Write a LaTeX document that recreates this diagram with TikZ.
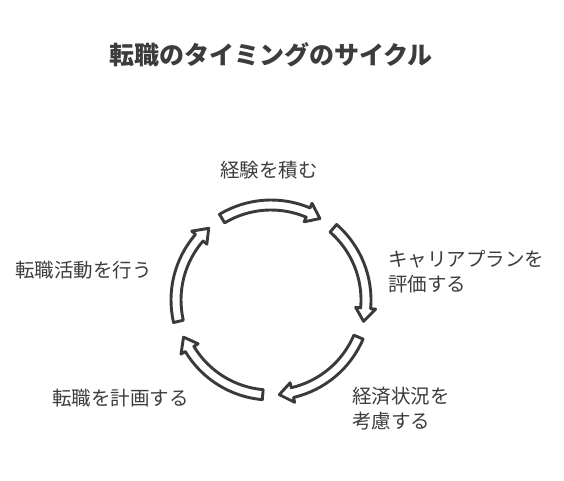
\documentclass[tikz,border=0pt]{standalone}
\usepackage{fontspec}
\newfontfamily\cjk{Noto Sans CJK JP}
\definecolor{ink}{HTML}{3A3A3A}
\definecolor{txt}{HTML}{3C3C3C}
\tikzset{
  cyc/.style={draw=ink, line width=2.9pt, fill=white, line join=round},
  lbl/.style={font=\cjk\fontsize{19.5}{25}\selectfont, text=txt, inner sep=0pt, align=left},
  ttl/.style={font=\cjk\bfseries\fontsize{25}{28}\selectfont, text=txt, inner sep=0pt}
}
\newcommand\cycarrow[3]{%
  \draw[cyc] (#1:100) arc[start angle=#1, end angle=#2+8, radius=100]
    -- (#2+8:105) -- (#2:95) -- (#2+8:85) -- (#2+8:90)
    arc[start angle=#2+8, end angle=#1, radius=90] -- cycle;
  \coordinate (#3) at (#2:95);}
\begin{document}
\begin{tikzpicture}[x=1pt,y=1pt]
\useasboundingbox (0,0) rectangle (564,480);
\node[ttl] (title) at (271,425) {転職のタイミングのサイクル};
\begin{scope}[shift={(271,180)}]
  \cycarrow{121}{59}{a1}
  \cycarrow{49}{-13}{a2}
  \cycarrow{-23}{-85}{a3}
  \cycarrow{-95}{-157}{a4}
  \cycarrow{-167}{-229}{a5}
\end{scope}
\node[lbl, anchor=west] (n1) at (220,310) {経験を積む};
\node[lbl, anchor=west] (n2) at (388,208) {キャリアプランを\\評価する};
\node[lbl, anchor=west] (n3) at (352,71) {経済状況を\\考慮する};
\node[lbl, anchor=west] (n4) at (52,82) {転職を計画する};
\node[lbl, anchor=west] (n5) at (15,210) {転職活動を行う};
\end{tikzpicture}
\end{document}
